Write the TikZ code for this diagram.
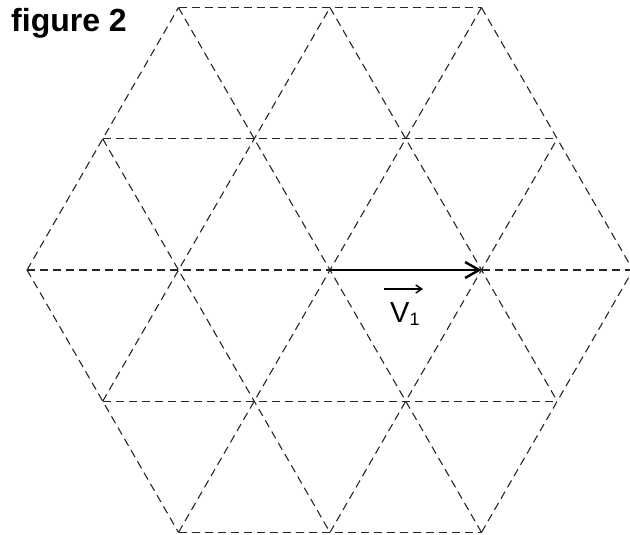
\documentclass[tikz,border=0pt]{standalone}
\usepackage{fontspec}
\setmainfont{Liberation Sans}
\usetikzlibrary{arrows.meta}
\begin{document}
\begin{tikzpicture}[x=1pt,y=-1pt,
  lattice/.style={draw=black!85,line width=1.1pt,dash pattern=on 8pt off 5pt},
  vecline/.style={draw=black,line width=2.8pt,-{Straight Barb[length=14pt,width=16pt,line width=2.4pt]}},
  lbl/.style={inner sep=0pt,anchor=base west,font=\fontsize{29}{29}\selectfont}
]
\useasboundingbox (0,0) rectangle (630,535);
% vertices
\coordinate (A1) at (178.5,7.6);
\coordinate (A2) at (330,7.6);
\coordinate (A3) at (481.5,7.6);
\coordinate (B1) at (102.75,138.8);
\coordinate (B2) at (254.25,138.8);
\coordinate (B3) at (405.75,138.8);
\coordinate (B4) at (557.25,138.8);
\coordinate (C1) at (27,270);
\coordinate (C2) at (178.5,270);
\coordinate (C3) at (330,270);
\coordinate (C4) at (481.5,270);
\coordinate (C5) at (633,270);
\coordinate (D1) at (102.75,401.2);
\coordinate (D2) at (254.25,401.2);
\coordinate (D3) at (405.75,401.2);
\coordinate (D4) at (557.25,401.2);
\coordinate (E1) at (178.5,532.4);
\coordinate (E2) at (330,532.4);
\coordinate (E3) at (481.5,532.4);
% horizontal lines
\draw[lattice] (A1) -- (A3);
\draw[lattice] (B1) -- (B4);
\draw[lattice] (C1) -- (C5);
\draw[lattice] (D1) -- (D4);
\draw[lattice] (E1) -- (E3);
% up-right lines
\draw[lattice] (C1) -- (A1);
\draw[lattice] (D1) -- (A2);
\draw[lattice] (E1) -- (A3);
\draw[lattice] (E2) -- (B4);
\draw[lattice] (E3) -- (C5);
% down-right lines
\draw[lattice] (C1) -- (E1);
\draw[lattice] (B1) -- (E2);
\draw[lattice] (A1) -- (E3);
\draw[lattice] (A2) -- (D4);
\draw[lattice] (A3) -- (C5);
% vector
\draw[vecline] (C3) -- (C4);
% label
\node[lbl] (vlab) at (390,322) {V\raisebox{-3pt}{\fontsize{18}{18}\selectfont 1}};
\coordinate (arS) at (384,289);
\coordinate (arE) at (423,289);
\draw[line width=1.4pt,-{Straight Barb[length=6pt,width=8pt,line width=1.4pt]}] (arS) -- (arE);
% title
\node[inner sep=0pt,anchor=base west,font=\fontsize{32}{32}\selectfont\bfseries] (title) at (11,32) {figure 2};
\end{tikzpicture}
\end{document}
